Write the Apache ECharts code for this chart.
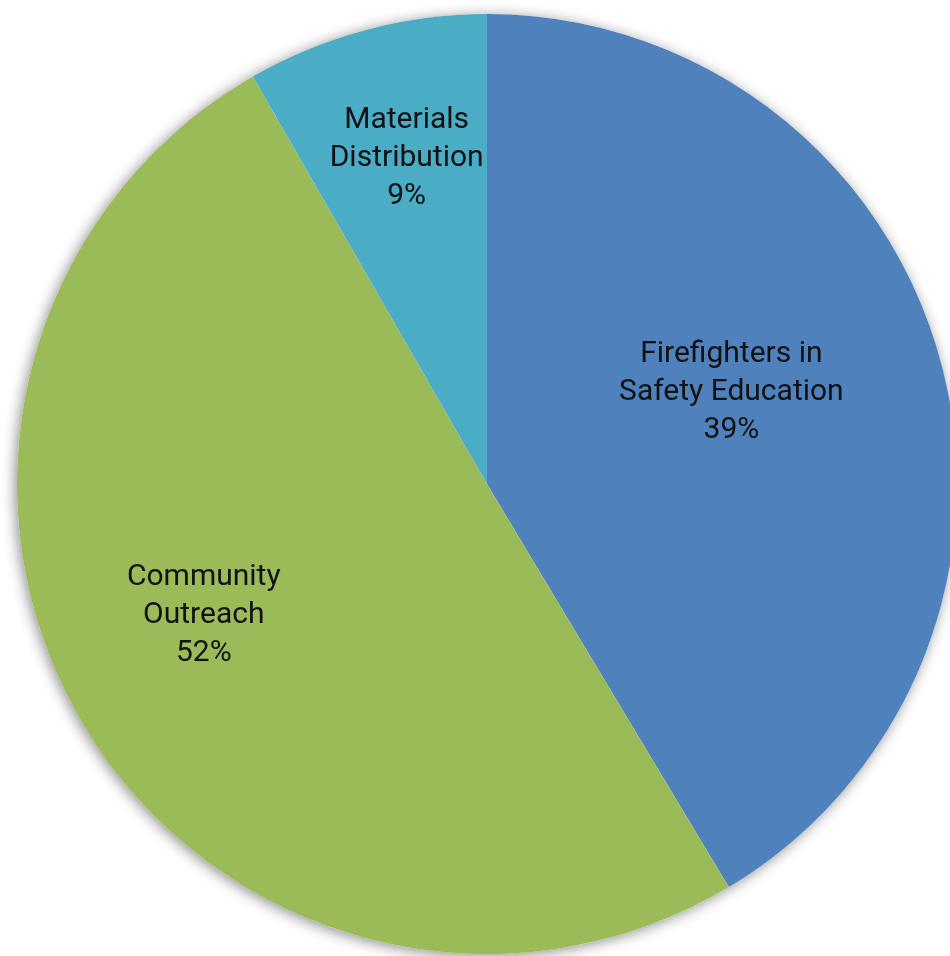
<!DOCTYPE html>
<html>
<head>
<meta charset="utf-8">
<script src="https://cdn.jsdelivr.net/npm/echarts@6/dist/echarts.min.js"></script>
<style>
html,body{margin:0;padding:0;background:#fff;}
#chart{width:950px;height:956px;}
</style>
</head>
<body>
<div id="chart"></div>
<script>
// Slice names (as shown, with their line breaks)
const categories = ['Firefighters in\nSafety Education', 'Community\nOutreach', 'Materials\nDistribution'];
// Slice sizes
const sliceValues = [41.4, 50.3, 8.3];
// Percent labels as printed on the chart
const percentLabels = ['39%', '52%', '9%'];

const colors = ['#4F81BD', '#9BBB59', '#4BACC6'];
const labelShift = [[15, -28], [-78, 11], [-19, -96]];

const chart = echarts.init(document.getElementById('chart'));
chart.setOption({
  animation: false,
  backgroundColor: '#ffffff',
  series: [
    {
      type: 'pie',
      silent: true,
      center: [487, 484],
      radius: 470,
      startAngle: 90,
      label: { show: false },
      labelLine: { show: false },
      itemStyle: { color: '#ffffff', shadowBlur: 14, shadowColor: 'rgba(0,0,0,0.45)', shadowOffsetX: -2, shadowOffsetY: 2 },
      data: [{ value: 1, name: 'bg' }],
      z: 1
    },
    {
      type: 'pie',
      center: [487, 484],
      radius: 470,
      startAngle: 90,
      clockwise: true,
      avoidLabelOverlap: false,
      itemStyle: { borderWidth: 0 },
      label: {
        show: true,
        position: 'inside',
        fontFamily: 'Roboto',
        fontSize: 30,
        lineHeight: 38,
        color: '#111111',
        align: 'center',
        formatter: p => p.name + '\n' + percentLabels[p.dataIndex]
      },
      labelLine: { show: false },
      labelLayout: p => ({ dx: labelShift[p.dataIndex][0], dy: labelShift[p.dataIndex][1] }),
      data: categories.map((c, i) => ({ name: c, value: sliceValues[i], itemStyle: { color: colors[i] } })),
      z: 2
    }
  ]
});
</script>
</body>
</html>
